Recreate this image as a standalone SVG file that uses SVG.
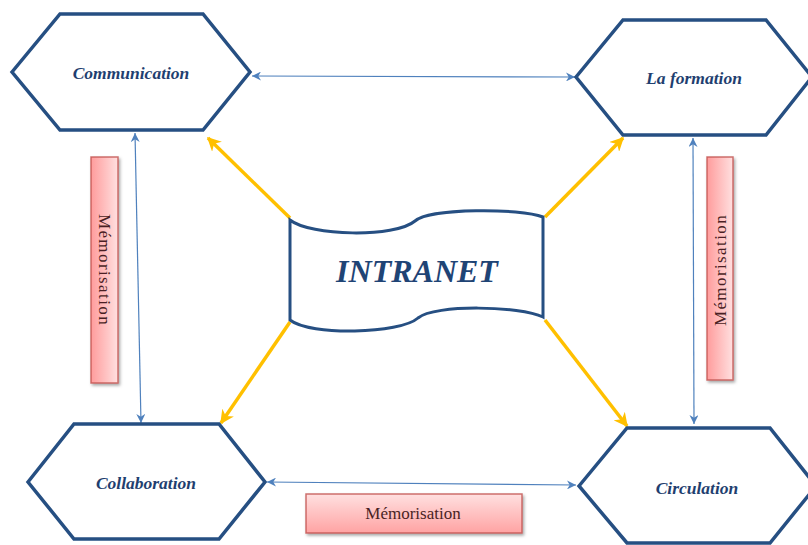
<svg xmlns="http://www.w3.org/2000/svg" width="808" height="545" viewBox="0 0 808 545">
<style>
.hex{fill:#fff;stroke:#264f82;stroke-width:3.5;stroke-linejoin:miter}
.ht{font-family:"Liberation Serif",serif;font-style:italic;font-weight:bold;font-size:17.5px;fill:#1f3f70;text-anchor:middle}
.blue{stroke:#4f81bd;stroke-width:1.2;fill:none;marker-start:url(#bs);marker-end:url(#be)}
.yel{stroke:#ffc000;stroke-width:3.5;fill:none;marker-end:url(#ye)}
.mem{stroke:#c0504d;stroke-opacity:0.8;stroke-width:1.5;filter:url(#sh)}
.mt{font-family:"Liberation Serif",serif;font-size:17px;fill:#4a1f24;text-anchor:middle}
</style>
<defs>
<marker id="be" viewBox="0 0 10 10" refX="10" refY="5" markerWidth="9" markerHeight="9" markerUnits="userSpaceOnUse" orient="auto"><path d="M0,0 L10,5 L0,10 L3,5 Z" fill="#4f81bd"/></marker>
<marker id="bs" viewBox="0 0 10 10" refX="0" refY="5" markerWidth="9" markerHeight="9" markerUnits="userSpaceOnUse" orient="auto"><path d="M10,0 L0,5 L10,10 L7,5 Z" fill="#4f81bd"/></marker>
<marker id="ye" viewBox="0 0 10 10" refX="9" refY="5" markerWidth="14" markerHeight="14" markerUnits="userSpaceOnUse" orient="auto"><path d="M0,0 L10,5 L0,10 L3,5 Z" fill="#ffc000"/></marker>
<linearGradient id="gv" x1="0" y1="0" x2="1" y2="0"><stop offset="0" stop-color="#ff9c9c"/><stop offset="1" stop-color="#ffe0e0"/></linearGradient>
<linearGradient id="gh" x1="0" y1="0" x2="0" y2="1"><stop offset="0" stop-color="#ffe0e0"/><stop offset="1" stop-color="#ffa3a3"/></linearGradient>
<filter id="sh" x="-20%" y="-20%" width="150%" height="150%"><feDropShadow dx="1.5" dy="2" stdDeviation="1.5" flood-color="#000" flood-opacity="0.35"/></filter>
</defs>

<g id="connectors">
<line class="blue" x1="252" y1="76" x2="575" y2="77"/>
<line class="blue" x1="135" y1="133" x2="141" y2="423"/>
<line class="blue" x1="693" y1="138" x2="694" y2="424"/>
<line class="blue" x1="267" y1="482" x2="576" y2="485"/>
<line class="yel" x1="290" y1="218" x2="208" y2="138"/>
<line class="yel" x1="545" y1="217" x2="623" y2="138"/>
<line class="yel" x1="290" y1="322" x2="221" y2="423"/>
<line class="yel" x1="545" y1="320" x2="627" y2="426"/>
</g>

<g id="communication">
<polygon class="hex" points="12,72 60,14 203,14 250,72 203,130 60,130"/>
<text class="ht" x="131" y="79">Communication</text>
</g>
<g id="la-formation">
<polygon class="hex" points="576,77 623,20 766,20 812,77 766,135 623,135"/>
<text class="ht" x="694" y="84">La formation</text>
</g>
<g id="collaboration">
<polygon class="hex" points="28,482 74,424 219,424 265,482 219,539 74,539"/>
<text class="ht" x="146" y="489">Collaboration</text>
</g>
<g id="circulation">
<polygon class="hex" points="579,486 627,428 770,428 816,486 770,543 627,543"/>
<text class="ht" x="697" y="494">Circulation</text>
</g>

<g id="intranet">
<path d="M290,220 C310,236 395,238 415,221 C430,208 520,208 543,217 L543,317 C520,306 435,304 418,318 C400,334 310,336 290,320 Z" fill="#fff" stroke="#264f82" stroke-width="3"/>
<text x="417" y="282" font-family="Liberation Serif,serif" font-style="italic" font-weight="bold" font-size="32" fill="#1f4475" text-anchor="middle">INTRANET</text>
</g>

<g id="memo-left">
<rect class="mem" x="91" y="157" width="27" height="226" fill="url(#gv)"/>
<text class="mt" transform="translate(98.5,270) rotate(90)" letter-spacing="1.4">Mémorisation</text>
</g>
<g id="memo-right">
<rect class="mem" x="707" y="157" width="26" height="223" fill="url(#gv)"/>
<text class="mt" transform="translate(726,270) rotate(-90)" letter-spacing="1.4">Mémorisation</text>
</g>
<g id="memo-bottom">
<rect class="mem" x="306" y="494" width="216" height="39" fill="url(#gh)"/>
<text class="mt" x="413" y="519">Mémorisation</text>
</g>
</svg>
